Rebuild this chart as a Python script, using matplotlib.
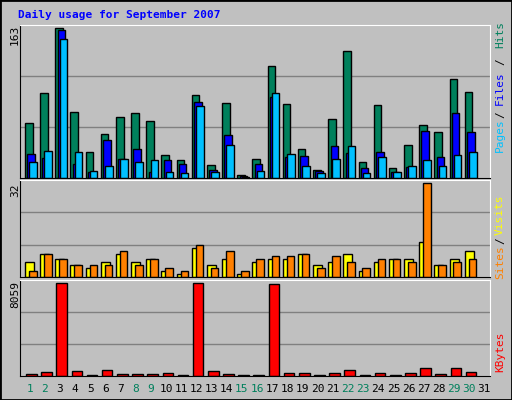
import matplotlib
matplotlib.use('Agg')
import matplotlib.pyplot as plt
import numpy as np

days = list(range(1, 31))
hits = [60, 92, 163, 72, 28, 48, 66, 70, 62, 25, 19, 90, 14, 81, 3, 21, 122, 80, 32, 9,
        64, 138, 17, 79, 11, 36, 58, 50, 107, 93]
files = [26, 22, 161, 15, 6, 41, 21, 31, 7, 20, 15, 82, 9, 47, 2, 15, 88, 23, 24, 8,
         35, 27, 11, 28, 7, 12, 51, 23, 70, 50]
pages = [17, 29, 151, 28, 8, 13, 21, 17, 20, 7, 5, 78, 7, 36, 1, 8, 92, 26, 13, 5,
         21, 35, 5, 23, 7, 13, 19, 13, 25, 28]
visits = [5, 8, 6, 4, 3, 5, 8, 5, 6, 2, 1, 10, 4, 6, 1, 5, 6, 6, 8, 4,
          5, 8, 2, 5, 6, 6, 12, 4, 6, 9]
sites = [2, 8, 6, 4, 4, 4, 9, 4, 6, 3, 2, 11, 3, 9, 2, 6, 7, 7, 8, 3,
         7, 5, 3, 6, 6, 5, 32, 4, 5, 6]
kbytes = [206, 382, 8059, 470, 118, 559, 206, 206, 206, 294, 118, 8059, 470, 206, 118, 118,
          7970, 294, 294, 118, 294, 559, 118, 294, 118, 294, 735, 206, 735, 382]
weekend = [1, 2, 8, 9, 15, 16, 22, 23, 29, 30]

bg = '#c0c0c0'
W, H = 512, 400
fig = plt.figure(figsize=(5.12, 4.0), dpi=100, facecolor=bg)
fig.patches.append(plt.Rectangle((0, 0), 1, 1, transform=fig.transFigure,
                                 fill=False, edgecolor='black', lw=2))

def make_ax(top, bottom):
    ax = fig.add_axes([20 / W, 1 - bottom / H, 470 / W, (bottom - top) / H])
    ax.set_facecolor(bg)
    ax.set_xlim(0.5, 31.5)
    ax.set_xticks([])
    ax.set_yticks([])
    for s in ax.spines.values():
        s.set_color('black')
    ax.spines['top'].set_color('white')
    ax.spines['right'].set_color('white')
    return ax

x = np.array(days, dtype=float)
kw = dict(align='edge', edgecolor='black', linewidth=1)
mono = 'DejaVu Sans Mono'

# Hits / Files / Pages
ax1 = make_ax(25, 178)
ax1.set_ylim(0, 166)
for g in (166 / 3, 2 * 166 / 3):
    ax1.axhline(g, color='#808080', lw=1, zorder=0)
ax1.bar(x - 0.17, hits, 0.5, color='#00805c', **kw)
ax1.bar(x - 0.02, files, 0.5, color='#0000ff', **kw)
ax1.bar(x + 0.11, pages, 0.5, color='#00c0ff', **kw)
fig.text(15 / W, 1 - 35 / H, '163', rotation=90, ha='center', va='center', fontsize=8, family=mono)
fig.text(500 / W, 1 - 35 / H, 'Hits', rotation=90, ha='center', va='center', fontsize=8, family=mono, color='#00805c')
fig.text(500 / W, 1 - 62 / H, '/', rotation=90, ha='center', va='center', fontsize=8, family=mono)
fig.text(500 / W, 1 - 88 / H, 'Files', rotation=90, ha='center', va='center', fontsize=8, family=mono, color='#0000ff')
fig.text(500 / W, 1 - 115 / H, '/', rotation=90, ha='center', va='center', fontsize=8, family=mono)
fig.text(500 / W, 1 - 135 / H, 'Pages', rotation=90, ha='center', va='center', fontsize=8, family=mono, color='#00c0ff')

# Sites / Visits
ax2 = make_ax(180, 277)
ax2.set_ylim(0, 33.1)
for g in (33.1 / 3, 2 * 33.1 / 3):
    ax2.axhline(g, color='#808080', lw=1, zorder=0)
ax2.bar(x - 0.17, visits, 0.6, color='#ffff00', **kw)
ax2.bar(x + 0.09, sites, 0.5, color='#ff8000', **kw)
fig.text(15 / W, 1 - 190 / H, '32', rotation=90, ha='center', va='center', fontsize=8, family=mono)
fig.text(500 / W, 1 - 215 / H, 'Visits', rotation=90, ha='center', va='center', fontsize=8, family=mono, color='#ffff00')
fig.text(500 / W, 1 - 241 / H, '/', rotation=90, ha='center', va='center', fontsize=8, family=mono)
fig.text(500 / W, 1 - 262 / H, 'Sites', rotation=90, ha='center', va='center', fontsize=8, family=mono, color='#ff8000')

# KBytes
ax3 = make_ax(280, 376)
ax3.set_ylim(0, 8059 * 1.035)
for g in (8059 * 1.035 / 3, 2 * 8059 * 1.035 / 3):
    ax3.axhline(g, color='#808080', lw=1, zorder=0)
ax3.bar(x - 0.1, kbytes, 0.7, color='#ff0000', **kw)
fig.text(15 / W, 1 - 294 / H, '8059', rotation=90, ha='center', va='center', fontsize=8, family=mono)
fig.text(500 / W, 1 - 352 / H, 'KBytes', rotation=90, ha='center', va='center', fontsize=8, family=mono, color='#ff0000')

# day labels
for d in range(1, 32):
    xp = 20 + (d - 0.5) * 470 / 31 + 2
    fig.text(xp / W, 1 - 389 / H, str(d), ha='center', va='center', fontsize=8,
             family=mono, color='#00805c' if d in weekend else 'black')

fig.text(18 / W, 1 - 15 / H, 'Daily usage for September 2007', ha='left', va='center',
         fontsize=8, family=mono, weight='bold', color='#0000ff')

fig.savefig('out.png', dpi=100, facecolor=bg)
